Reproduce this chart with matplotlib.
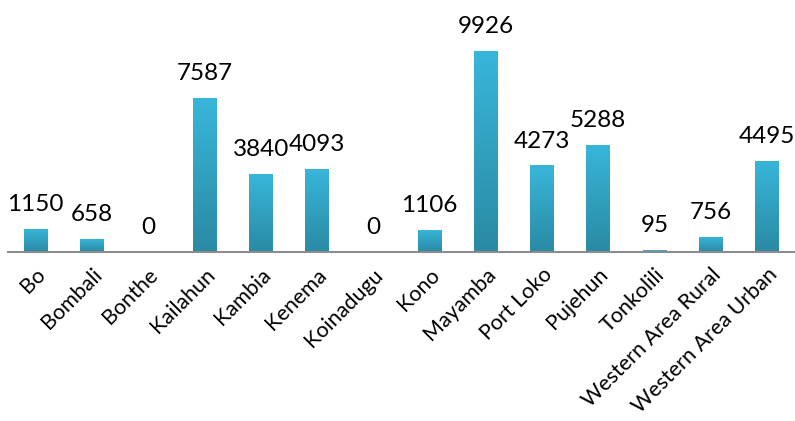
import numpy as np
import matplotlib.pyplot as plt
from matplotlib.colors import LinearSegmentedColormap

districts = ["Bo", "Bombali", "Bonthe", "Kailahun", "Kambia", "Kenema", "Koinadugu",
             "Kono", "Mayamba", "Port Loko", "Pujehun", "Tonkolili",
             "Western Area Rural", "Western Area Urban"]
cases = [1150, 658, 0, 7587, 3840, 4093, 0, 1106, 9926, 4273, 5288, 95, 756, 4495]

plt.rcParams['font.family'] = ['Lato', 'DejaVu Sans']

fig = plt.figure(figsize=(7.95, 4.21), dpi=100)
ax = fig.add_axes([7.5 / 795, 1 - 252 / 421, 1 - 7.5 / 795, 252 / 421])

x = np.arange(len(districts))
bars = ax.bar(x, cases, width=0.42, color='none', edgecolor='none')
ax.set_xlim(-0.5, len(districts) - 0.5)
ax.set_ylim(0, 12444)

# gradient fill, light on top, darker at the base
cmap = LinearSegmentedColormap.from_list('g', ['#2A8AA4', '#38B6DA'])
grad = np.linspace(0, 1, 256).reshape(-1, 1)
for b in bars:
    h = b.get_height()
    if h <= 0:
        continue
    im = ax.imshow(grad, cmap=cmap, origin='lower', aspect='auto',
                   extent=[b.get_x(), b.get_x() + b.get_width(), 0, h], zorder=2)
    im.set_clip_path(b)

for xi, v in zip(x, cases):
    ax.annotate(str(v), (xi, v), xytext=(0, 10), textcoords='offset points',
                ha='center', va='bottom', fontsize=17.5, color='black')

ax.set_xticks(x)
ax.set_xticklabels(districts, rotation=45, ha='right', rotation_mode='anchor', fontsize=15.5)
ax.tick_params(axis='x', length=0, pad=9)
ax.set_yticks([])
for s in ['top', 'right', 'left']:
    ax.spines[s].set_visible(False)
ax.spines['bottom'].set_color('#8C8C8C')
ax.spines['bottom'].set_linewidth(1.5)

fig.savefig('out.png', dpi=100)
